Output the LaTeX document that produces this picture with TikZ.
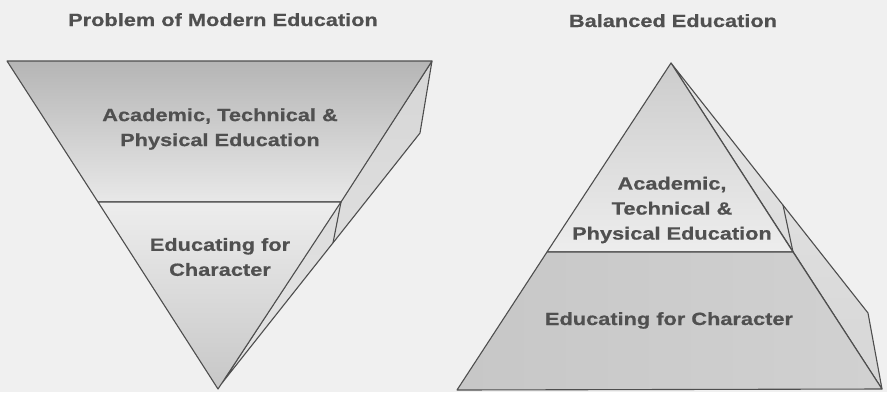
\documentclass[tikz,border=0pt]{standalone}
\usepackage{fontspec}
\usepackage{xcolor}
\newfontfamily\edufont{Liberation Sans Bold}[FakeStretch=1.23,FakeBold=0.6]
\definecolor{paper}{HTML}{F0F0F0}
\definecolor{ink}{HTML}{505050}
\definecolor{edge}{HTML}{4E4E4E}

\begin{document}
\begin{tikzpicture}[x=1pt,y=-1pt,
  face/.style={draw=edge,line width=1.1pt,line join=round},
  edutext/.style={text=ink,inner sep=0pt,align=center,
    font=\edufont\fontsize{17.7}{25}\selectfont}]
\fill[paper] (0,0) rectangle (887,392);
\useasboundingbox (0,0) rectangle (887,392);

% inverted pyramid
\coordinate (tl) at (7,61);
\coordinate (tr) at (432,61);
\coordinate (tip) at (218,389);
\coordinate (ml) at (98,202);
\coordinate (mr) at (341,202);
\coordinate (sk) at (420,133);
\coordinate (sb) at (222,383);
\coordinate (sm) at (333,243);
\path[face,top color=black!16,bottom color=paper!95!black] (tr) -- (sk) -- (sb) -- cycle;
\path[face,top color=black!29,bottom color=black!9] (tl) -- (tr) -- (mr) -- (ml) -- cycle;
\path[face,top color=black!7,middle color=black!8,bottom color=black!22] (ml) -- (mr) -- (tip) -- cycle;
\draw[face] (mr) -- (sm);

% upright pyramid
\coordinate (apex) at (671,63);
\coordinate (bl) at (457,390);
\coordinate (br) at (882,389);
\coordinate (dl) at (547,252);
\coordinate (dr) at (793,252);
\coordinate (ok) at (868,313);
\coordinate (om) at (783,205);
\path[face,top color=black!10,bottom color=black!16] (apex) -- (ok) -- (br) -- cycle;
\path[face,top color=black!20,middle color=black!8,bottom color=black!7] (apex) -- (dr) -- (dl) -- cycle;
\path[face,left color=black!22,middle color=black!11,right color=black!18] (dl) -- (dr) -- (br) -- (bl) -- cycle;
\draw[face] (om) -- (dr);

\node[edutext,anchor=base] (probttl) at (223,26) {Problem of Modern Education};
\node[edutext,anchor=base] (balttl) at (673,27) {Balanced Education};
\node[edutext] (acadinv) at (220,129) {Academic, Technical \&\\Physical Education};
\node[edutext] (charinv) at (220,257) {Educating for\\Character};
\node[edutext] (acadpyr) at (672,210) {Academic,\\Technical \&\\Physical Education};
\node[edutext,anchor=base] (charpyr) at (669,325) {Educating for Character};
\end{tikzpicture}
\end{document}
